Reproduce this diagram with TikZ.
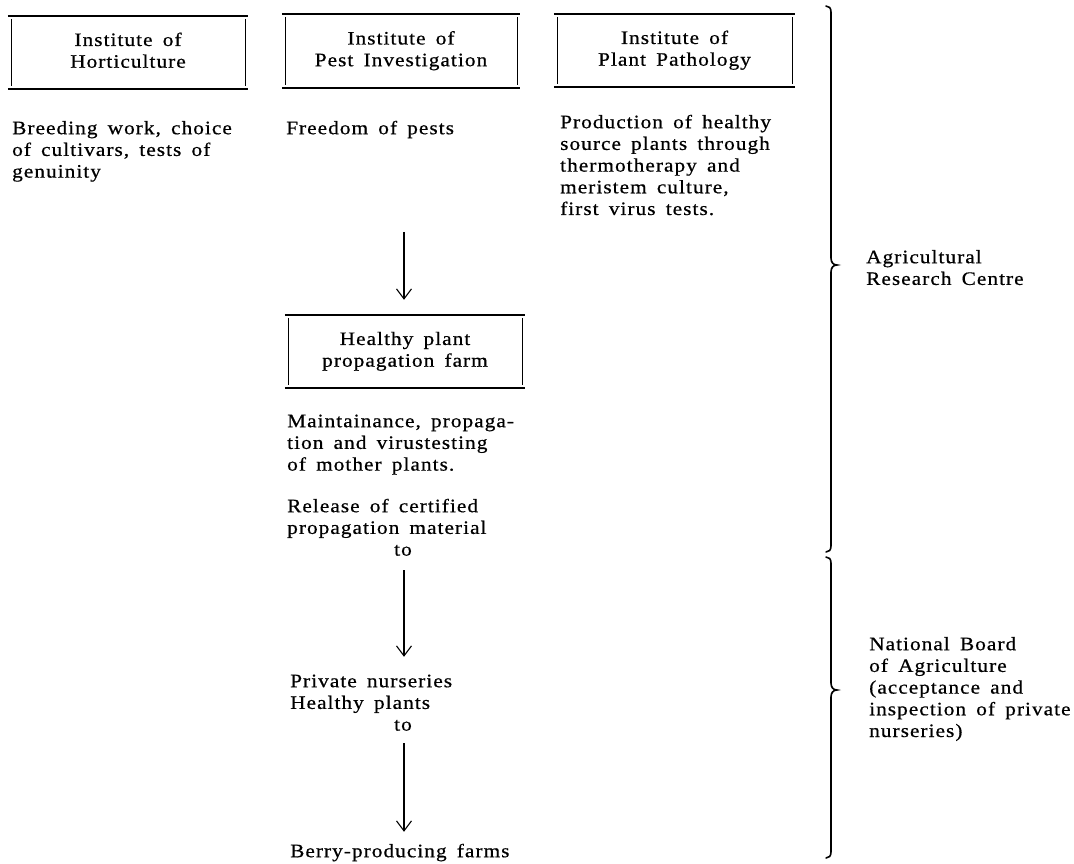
\documentclass[tikz,border=0pt]{standalone}
\usepackage{fontspec}
\setmainfont{Liberation Serif}[FakeStretch=1.12,LetterSpace=5.5,WordSpace=1.6,FakeBold=0.6]
\usetikzlibrary{arrows.meta,calc}
\newcommand\dgfont{\fontsize{19}{21.7}\selectfont}
\begin{document}
\begin{tikzpicture}[x=1pt,y=-1pt,
  boxnode/.style={inner sep=0pt,align=center,font=\dgfont},
  txt/.style={inner sep=0pt,anchor=north west,align=left,font=\dgfont},
  hl/.style={line width=1.7pt},
  vl/.style={line width=1.1pt},
  arr/.style={line width=1.1pt,-{Straight Barb[length=10pt,width=15pt,line width=1.1pt]}},
  bracepath/.style={line width=1.6pt,line cap=round}]
\useasboundingbox (0,0) rectangle (1074,863);
\coordinate (ax) at (404,0);

% boxes
\node[boxnode,minimum width=240pt,minimum height=73pt] (b1) at (128,52.5) {\strut Institute of\\Horticulture\strut};
\node[boxnode,minimum width=238pt,minimum height=74pt] (b2) at (401,51) {\strut Institute of\\Pest Investigation\strut};
\node[boxnode,minimum width=241pt,minimum height=73pt] (b3) at (674.5,50.5) {\strut Institute of\\Plant Pathology\strut};
\node[boxnode,minimum width=240pt,minimum height=73pt] (b4) at (405,351.5) {\strut Healthy plant\\propagation farm\strut};

\foreach \b in {b1,b2,b3,b4}{
  \draw[hl] (\b.north west) -- (\b.north east);
  \draw[hl] (\b.south west) -- (\b.south east);
  \draw[vl] ([xshift=4pt,yshift=-3pt]\b.north west) -- ([xshift=4pt,yshift=3pt]\b.south west);
  \draw[vl] ([xshift=-3pt,yshift=-3pt]\b.north east) -- ([xshift=-3pt,yshift=3pt]\b.south east);
}

% texts
\node[txt] (t1) at (12,118.8) {\strut Breeding work, choice\\of cultivars, tests of\\genuinity};
\node[txt] (t2) at (286,118.8) {\strut Freedom of pests\strut};
\node[txt] (t3) at (560,112.8) {\strut Production of healthy\\source plants through\\thermotherapy and\\meristem culture,\\first virus tests.};
\node[txt] (t4) at (287,411.8) {\strut Maintainance, propaga-\\tion and virustesting\\of mother plants.};
\node[txt] (t5) at (287,496.8) {\strut Release of certified\\propagation material\\\hspace*{107pt}to\strut};
\node[txt] (t6) at (290,671.8) {\strut Private nurseries\\Healthy plants\\\hspace*{104pt}to\strut};
\node[txt] (t7) at (290,841.8) {\strut Berry-producing farms};
\node[txt] (t8) at (866,247.8) {\strut Agricultural\\Research Centre};
\node[txt] (t9) at (869,634.8) {\strut National Board\\of Agriculture\\(acceptance and\\inspection of private\\nurseries)};

% arrows
\draw[arr,shorten <=91pt,shorten >=15pt] (t2.south -| ax) -- (b4.north -| ax);
\draw[arr,shorten <=8pt,shorten >=15pt] (t5.south -| ax) -- (t6.north -| ax);
\draw[arr,shorten <=6pt,shorten >=10pt] (t6.south -| ax) -- (t7.north -| ax);

% braces
\draw[bracepath] (826,6) .. controls (829,6) and (831,8) .. (831,12) -- (831,258)
  .. controls (831,262) and (833,265) .. (837,265)
  .. controls (833,265) and (831,268) .. (831,272) -- (831,546)
  .. controls (831,550) and (829,552) .. (826,552);
\draw[bracepath] (826,557) .. controls (829,557) and (831,559) .. (831,563) -- (831,683)
  .. controls (831,687) and (833,690) .. (837,690)
  .. controls (833,690) and (831,693) .. (831,697) -- (831,852)
  .. controls (831,856) and (829,858) .. (826,858);
\end{tikzpicture}
\end{document}
